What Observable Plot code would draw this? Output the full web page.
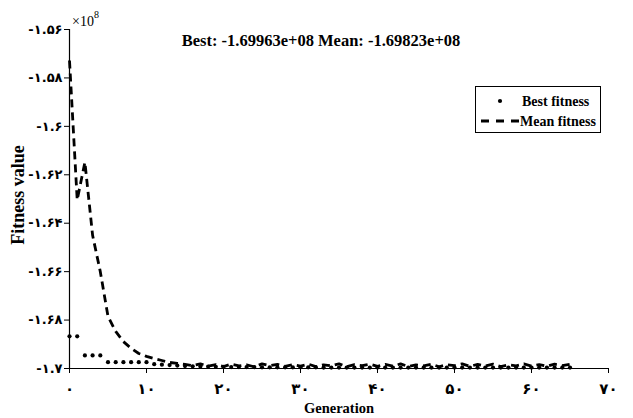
<!DOCTYPE html>
<html>
<head>
<meta charset="utf-8">
<script src="https://cdn.jsdelivr.net/npm/d3@7"></script>
<script src="https://cdn.jsdelivr.net/npm/@observablehq/plot@0.6"></script>
<style>
  html, body { margin: 0; padding: 0; background: #fff; }
  #chart svg { display: block; }
</style>
</head>
<body>
<div id="chart"></div>
<script>
const generations = [0,1,2,3,4,5,6,7,8,9,10,11,12,13,14,15,16,17,18,19,20,21,22,23,24,25,26,27,28,29,30,31,32,33,34,35,36,37,38,39,40,41,42,43,44,45,46,47,48,49,50,51,52,53,54,55,56,57,58,59,60,61,62,63,64,65];

const bestFitness = [-1.6867,-1.6867,-1.6946,-1.6946,-1.6946,-1.6974,-1.6974,-1.6974,-1.6974,-1.6974,-1.6974,
  -1.6982,-1.6984,-1.6986,-1.6988,-1.6990,-1.6991,-1.6992,-1.6992,-1.6993,-1.6993,
  -1.6994,-1.6994,-1.6994,-1.6994,-1.6995,-1.6995,-1.6995,-1.6995,-1.6995,-1.6995,
  -1.6995,-1.6995,-1.6996,-1.6996,-1.6996,-1.6996,-1.6996,-1.6996,-1.6996,-1.6996,
  -1.6996,-1.6996,-1.6996,-1.6996,-1.6996,-1.6996,-1.6996,-1.6996,-1.6996,-1.6996,
  -1.6996,-1.6996,-1.6996,-1.6996,-1.6996,-1.6996,-1.6996,-1.6996,-1.6996,-1.6996,
  -1.6996,-1.6996,-1.6996,-1.6996,-1.69963];

const meanFitness = [-1.5728,-1.6304,-1.6148,-1.6450,-1.6600,-1.6785,-1.6847,-1.6889,-1.6917,-1.6938,-1.6950,
  -1.6959,-1.6967,-1.6975,-1.6979,-1.6983,-1.6988,-1.6981,-1.6990,-1.6984,-1.6992,
  -1.6982,-1.6989,-1.6985,-1.6993,-1.6981,-1.6988,-1.6983,-1.6991,-1.6984,-1.6990,
  -1.6982,-1.6992,-1.6985,-1.6989,-1.6981,-1.6993,-1.6984,-1.6988,-1.6982,-1.6991,
  -1.6983,-1.6990,-1.6981,-1.6992,-1.6985,-1.6989,-1.6982,-1.6993,-1.6984,-1.6988,
  -1.6981,-1.6991,-1.6983,-1.6990,-1.6982,-1.6992,-1.6985,-1.6989,-1.6981,-1.6990,
  -1.6984,-1.6991,-1.6982,-1.6988,-1.69823];

const yTicks = [-1.56,-1.58,-1.6,-1.62,-1.64,-1.66,-1.68,-1.7];
const yTickLabels = ["-۱.۵۶","-۱.۵۸","-۱.۶","-۱.۶۲","-۱.۶۴","-۱.۶۶","-۱.۶۸","-۱.۷"];
const xTicks = [0,10,20,30,40,50,60,70];
const xTickLabels = ["۰","۱۰","۲۰","۳۰","۴۰","۵۰","۶۰","۷۰"];

const titleText = "Best: -1.69963e+08 Mean: -1.69823e+08";
const xLabel = "Generation";
const yLabel = "Fitness value";
const seriesNames = ["Best fitness","Mean fitness"];

const rows = generations.map((g,i) => ({g, best: bestFitness[i], mean: meanFitness[i]}));

const W = 633, H = 418;
const mL = 69, mR = 25, mT = 29, mB = 50;

const chart = Plot.plot({
  width: W, height: H,
  marginLeft: mL, marginRight: mR, marginTop: mT, marginBottom: mB,
  style: {background: "#fff", color: "#000", overflow: "visible"},
  x: {domain: [0,70]},
  y: {domain: [-1.7,-1.56]},
  marks: [
    Plot.axisY({ticks: yTicks, tickFormat: (d) => yTickLabels[yTicks.indexOf(d)], tickSize: 5, tickPadding: 2, label: null,
      fontSize: 13, fontWeight: "bold", fontFamily: "DejaVu Sans"}),
    Plot.axisX({ticks: xTicks, tickFormat: (d) => xTickLabels[xTicks.indexOf(d)], tickSize: 5, tickPadding: 10, label: null,
      fontSize: 15, fontWeight: "bold", fontFamily: "DejaVu Sans"}),
    Plot.ruleX([0], {stroke: "#000", strokeWidth: 1.2}),
    Plot.ruleY([-1.7], {stroke: "#000", strokeWidth: 1.2}),
    Plot.line(rows, {x: "g", y: "mean", stroke: "#000", strokeWidth: 2.8, strokeDasharray: "8,5", strokeLinecap: "butt"}),
    Plot.dot(rows, {x: "g", y: "best", r: 2.1, fill: "#000", stroke: null})
  ]
});

document.getElementById("chart").appendChild(chart);

const svg = d3.select(chart);
const serif = "'Liberation Serif', 'Times New Roman', serif";

svg.append("text").attr("x", 321).attr("y", 46).attr("text-anchor", "middle")
  .attr("font-family", serif).attr("font-weight", "bold").attr("font-size", 16.5).attr("fill", "#000").text(titleText);

const mult = svg.append("text").attr("x", 72).attr("y", 26).attr("text-anchor", "start")
  .attr("font-family", serif).attr("font-size", 14).attr("fill", "#000");
mult.append("tspan").text("×10");
mult.append("tspan").attr("dy", -8).attr("font-size", 10).text("8");

svg.append("text").attr("transform", "translate(24,195) rotate(-90)").attr("text-anchor", "middle")
  .attr("font-family", serif).attr("font-weight", "bold").attr("font-size", 18).attr("fill", "#000").text(yLabel);

svg.append("text").attr("x", 339).attr("y", 413).attr("text-anchor", "middle")
  .attr("font-family", serif).attr("font-weight", "bold").attr("font-size", 14.5).attr("fill", "#000").text(xLabel);

// legend
const lg = svg.append("g");
lg.append("rect").attr("x", 475.5).attr("y", 86.5).attr("width", 125).attr("height", 46)
  .attr("fill", "#fff").attr("stroke", "#000").attr("stroke-width", 1);
lg.append("circle").attr("cx", 500).attr("cy", 101).attr("r", 2.1).attr("fill", "#000");
lg.append("line").attr("x1", 481).attr("x2", 519).attr("y1", 121).attr("y2", 121)
  .attr("stroke", "#000").attr("stroke-width", 2.8).attr("stroke-dasharray", "8,7");
lg.append("text").attr("x", 522).attr("y", 106).attr("text-anchor", "start").attr("font-family", serif).attr("font-weight", "bold")
  .attr("font-size", 14).attr("fill", "#000").text(seriesNames[0]);
lg.append("text").attr("x", 520).attr("y", 126).attr("text-anchor", "start").attr("font-family", serif).attr("font-weight", "bold")
  .attr("font-size", 14).attr("fill", "#000").text(seriesNames[1]);
</script>
</body>
</html>
